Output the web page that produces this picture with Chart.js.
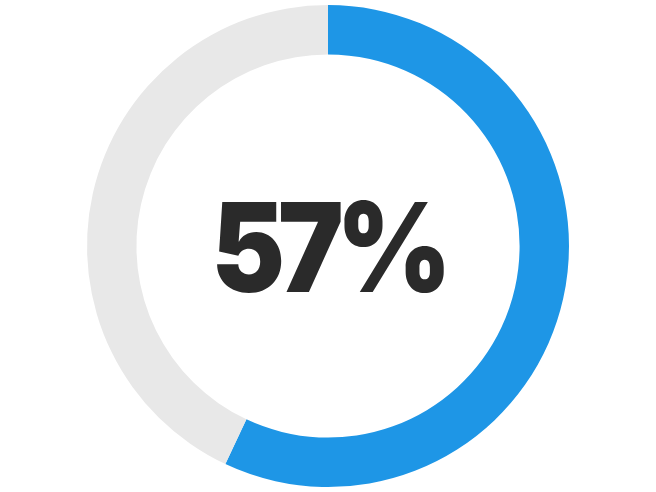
<!DOCTYPE html>
<html>
<head>
<meta charset="utf-8">
<script src="https://cdn.jsdelivr.net/npm/chart.js@4.4.1/dist/chart.umd.min.js"></script>
<style>
  html, body { margin: 0; padding: 0; background: #ffffff; }
  #wrap { width: 656px; height: 492px; position: relative; }
</style>
</head>
<body>
<div id="wrap"><canvas id="progressChart"></canvas></div>
<script>
// Progress values (percent)
const labels = ['Complete', 'Remaining'];
const values = [57, 43];
const colors = ['#1e96e6', '#e8e8e8'];
const centerLabel = values[0] + '%';

// Draws the big percentage in the hole
const centerText = {
    id: 'centerText',
    afterDraw(chart) {
        const ctx = chart.ctx;
        const arc = chart.getDatasetMeta(0).data[0];
        ctx.save();
        ctx.font = '900 124px Inter, "Open Sans", sans-serif';
        ctx.letterSpacing = '-8px';
        ctx.fillStyle = '#2a2a2a';
        ctx.textAlign = 'center';
        ctx.textBaseline = 'alphabetic';
        const m = ctx.measureText(centerLabel);
        const h = m.actualBoundingBoxAscent + m.actualBoundingBoxDescent;
        // slightly condensed, like the heavy display face in the original
        ctx.translate(arc.x, arc.y);
        ctx.scale(0.89, 1);
        ctx.fillText(centerLabel, 0, h / 2 - m.actualBoundingBoxDescent);
        ctx.restore();
    }
};

new Chart(document.getElementById('progressChart'), {
    type: 'doughnut',
    data: {
        labels: labels,
        datasets: [{
            data: values,
            backgroundColor: colors,
            borderWidth: 0
        }]
    },
    options: {
        responsive: true,
        maintainAspectRatio: false,
        animation: false,
        cutout: '79.5%',
        layout: { padding: 5 },
        plugins: {
            legend: { display: false },
            tooltip: { enabled: false }
        }
    },
    plugins: [centerText]
});
</script>
</body>
</html>
